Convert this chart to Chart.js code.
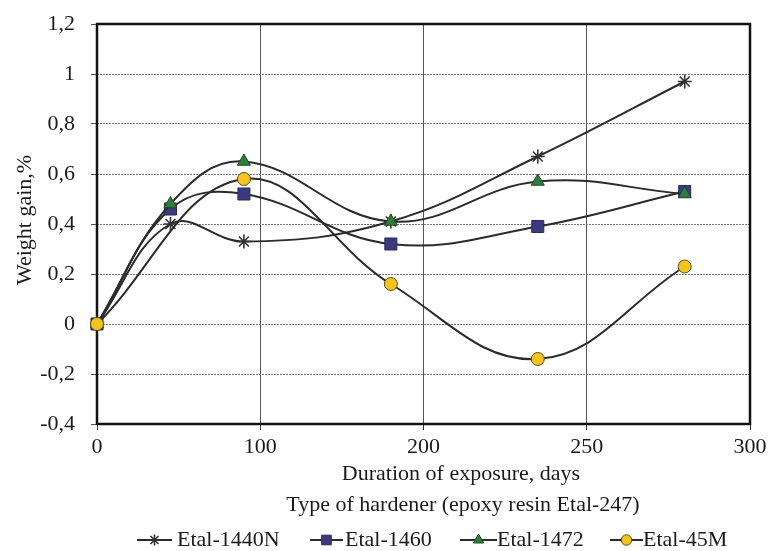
<!DOCTYPE html>
<html>
<head>
<meta charset="utf-8">
<script src="https://cdn.jsdelivr.net/npm/chart.js@4/dist/chart.umd.min.js"></script>
<style>
html,body{margin:0;padding:0;background:#fff;}
#wrap{width:769px;height:551px;}
</style>
</head>
<body>
<div id="wrap"><canvas id="c" width="769" height="551"></canvas></div>
<script>
// ---- data ----
const days = [0, 45, 90, 180, 270, 360];
const etal1440N = [0, 0.40, 0.33, 0.41, 0.67, 0.97];
const etal1460 = [0, 0.46, 0.52, 0.32, 0.39, 0.53];
const etal1472 = [0, 0.48, 0.65, 0.41, 0.57, 0.52];
const etal45M = [0, null, 0.58, 0.16, -0.14, 0.23];
const seriesNames = ['Etal-1440N', 'Etal-1460', 'Etal-1472', 'Etal-45M'];
const xTickLabels = ['0', '100', '200', '250', '300'];
const yTickLabels = ['-0,4', '-0,2', '0', '0,2', '0,4', '0,6', '0,8', '1', '1,2'];
const xTitle = 'Duration of exposure, days';
const subTitle = 'Type of hardener (epoxy resin Etal-247)';
const yTitle = 'Weight gain,%';

const FONT = '"Liberation Serif", "Times New Roman", serif';
const FS = 22;
const LINE = '#2b2b2b';

function pts(vals) {
  const out = [];
  vals.forEach((v, i) => { if (v !== null) out.push({x: days[i], y: v}); });
  return out;
}

const styles = [
  {pointStyle: 'star', radius: 7, bg: '#333', border: '#333', bw: 1.6},
  {pointStyle: 'rect', radius: 8.5, bg: '#3b3a7e', border: '#2a2a55', bw: 1},
  {pointStyle: 'triangle', radius: 7.5, bg: '#2f7d3c', border: '#1f4a25', bw: 1},
  {pointStyle: 'circle', radius: 6.5, bg: '#f5c31d', border: '#5a4d1e', bw: 1}
];
const seriesData = [etal1440N, etal1460, etal1472, etal45M];

const datasets = seriesData.map((vals, i) => ({
  label: seriesNames[i],
  data: pts(vals),
  order: seriesData.length - 1 - i,
  borderColor: LINE,
  borderWidth: 2,
  tension: 0.4,
  spanGaps: true,
  fill: false,
  pointStyle: styles[i].pointStyle,
  pointRadius: styles[i].radius,
  pointBackgroundColor: styles[i].bg,
  pointBorderColor: styles[i].border,
  pointBorderWidth: styles[i].bw,
  clip: false
}));

const decor = {
  id: 'decor',
  beforeDatasetsDraw(chart) {
    const ctx = chart.ctx, a = chart.chartArea;
    ctx.save();
    ctx.strokeStyle = '#111';
    ctx.lineWidth = 2.5;
    ctx.strokeRect(a.left, a.top, a.right - a.left, a.bottom - a.top);
    ctx.restore();
  },
  afterDraw(chart) {
    const ctx = chart.ctx;
    ctx.save();
    ctx.fillStyle = '#1a1a1a';
    ctx.font = FS + 'px ' + FONT;
    ctx.textAlign = 'center';
    ctx.textBaseline = 'middle';
    ctx.fillText(xTitle, 461, 474);
    ctx.fillText(subTitle, 463, 505);
    // y title
    ctx.save();
    ctx.translate(25, 220);
    ctx.rotate(-Math.PI / 2);
    ctx.fillText(yTitle, 0, 0);
    ctx.restore();
    // legend
    const items = [
      {x0: 137, x1: 172, tx: 177},
      {x0: 310, x1: 343, tx: 345},
      {x0: 460, x1: 497, tx: 497},
      {x0: 610, x1: 643, tx: 643}
    ];
    const ly = 540;
    ctx.textAlign = 'left';
    chart.data.datasets.forEach((ds, i) => {
      const it = items[i];
      ctx.strokeStyle = LINE;
      ctx.lineWidth = 2;
      ctx.beginPath();
      ctx.moveTo(it.x0, ly);
      ctx.lineTo(it.x1, ly);
      ctx.stroke();
      ctx.fillStyle = styles[i].bg;
      ctx.strokeStyle = styles[i].border;
      ctx.lineWidth = styles[i].bw;
      Chart.helpers.drawPoint(ctx, {
        pointStyle: styles[i].pointStyle,
        radius: styles[i].radius * 0.8,
        borderWidth: styles[i].bw,
        rotation: 0
      }, (it.x0 + it.x1) / 2, ly);
      ctx.fillStyle = '#1a1a1a';
      ctx.fillText(ds.label, it.tx, ly);
    });
    ctx.restore();
  }
};

new Chart(document.getElementById('c'), {
  type: 'line',
  data: {datasets},
  options: {
    responsive: false,
    animation: false,
    events: [],
    layout: {padding: {top: 24, right: 19, left: 0, bottom: 0}},
    plugins: {legend: {display: false}, title: {display: false}, tooltip: {enabled: false}},
    scales: {
      x: {
        type: 'linear',
        min: 0, max: 400,
        afterFit(s) { s.height = 127; s.paddingLeft = 0; s.paddingRight = 0; },
        ticks: {
          stepSize: 100,
          padding: 4,
          color: '#1a1a1a',
          font: {family: FONT, size: FS},
          maxRotation: 0,
          callback: (v, i) => xTickLabels[i]
        },
        grid: {color: '#555', lineWidth: 1, tickLength: 6, tickColor: '#333'},
        border: {display: false}
      },
      y: {
        min: -0.4, max: 1.2,
        afterFit(s) { s.width = 97; s.paddingTop = 0; s.paddingBottom = 0; },
        ticks: {
          stepSize: 0.2,
          padding: 16,
          color: '#1a1a1a',
          font: {family: FONT, size: FS},
          callback: (v, i) => yTickLabels[i]
        },
        grid: {color: '#7a7a7a', lineWidth: 1, tickLength: 6, tickColor: '#555'},
        border: {display: false, dash: [2, 1]}
      }
    }
  },
  plugins: [decor]
});
</script>
</body>
</html>
